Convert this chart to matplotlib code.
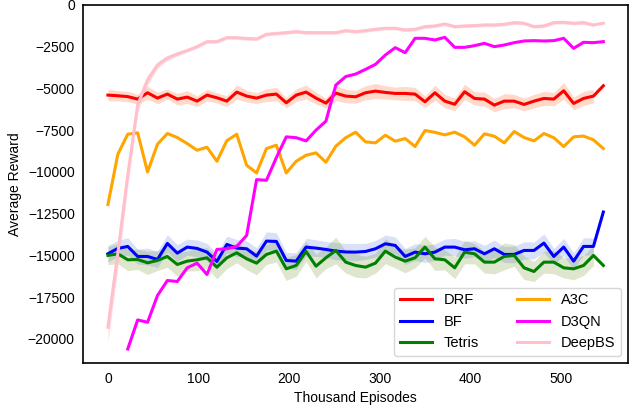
import numpy as np
import matplotlib

matplotlib.use("Agg")
import matplotlib.pyplot as plt

plt.rcParams["font.family"] = ["Liberation Sans", "DejaVu Sans"]

# x axis: thousand episodes, 51 checkpoints
episodes = np.arange(51) * 10.94

drf = [-5400, -5440, -5490, -5640, -5260, -5580, -5340, -5640, -5520, -5760,
       -5400, -5560, -5760, -5220, -5460, -5580, -5400, -5340, -5860, -5400,
       -5220, -5580, -5880, -5280, -5460, -5500, -5260, -5160, -5240, -5300,
       -5300, -5340, -5800, -5260, -5760, -5950, -5200, -5600, -5640, -6000,
       -5760, -5760, -5960, -5760, -5600, -5640, -5140, -5900, -5600, -5460,
       -4840]
bf = [-14900, -14580, -14460, -15060, -15060, -15240, -14280, -14860, -14500, -14580,
      -14800, -15360, -14340, -14560, -14600, -15040, -14140, -14160, -15300, -15340,
      -14500, -14560, -14640, -14740, -14790, -14800, -14760, -14600, -14300, -14400,
      -15060, -14800, -14900, -14800, -14500, -14500, -14660, -14600, -14900, -14600,
      -14940, -14940, -14700, -14700, -14260, -15060, -14500, -15340, -14460, -14460,
      -12400]
tetris = [-15000, -14900, -15260, -15240, -15440, -15300, -15060, -15540, -15340, -15260,
          -15140, -15700, -15140, -14840, -15200, -15460, -14940, -14740, -15800, -15600,
          -14760, -15640, -15140, -14700, -15400, -15600, -15700, -15460, -14740, -15100,
          -15340, -15140, -14500, -15200, -15260, -15740, -14800, -14900, -15400, -15400,
          -15060, -15000, -15740, -15960, -15400, -15400, -15740, -15800, -15600, -15000,
          -15600]
a3c = [-11950, -8940, -7740, -7660, -10000, -8340, -7700, -7940, -8300, -8700,
       -8520, -9360, -8130, -7740, -9600, -10060, -8600, -8400, -10060, -9360,
       -9000, -8860, -9420, -8460, -7950, -7620, -8200, -8260, -7800, -8160,
       -8000, -8480, -7520, -7630, -7780, -7620, -7900, -8400, -7720, -7860,
       -8260, -7580, -7940, -8140, -7700, -7950, -8480, -7900, -7850, -8080,
       -8600]
d3qn = [None, None, -20600, -18860, -19000, -17400, -16500, -16560, -15740, -15460,
        -16140, -14640, -14600, -14460, -13800, -10460, -10500, -9140, -7900, -7950,
        -8140, -7500, -6960, -4800, -4290, -4140, -3860, -3560, -3000, -2560,
        -2860, -2000, -2000, -2100, -1940, -2540, -2540, -2440, -2300, -2500,
        -2400, -2260, -2160, -2140, -2160, -2140, -2000, -2600, -2240, -2260,
        -2200]
deepbs = [-19300, -14880, -10200, -6000, -4500, -3600, -3180, -2940, -2730, -2500,
          -2200, -2200, -1960, -1960, -2010, -2040, -1760, -1710, -1660, -1600,
          -1660, -1660, -1660, -1660, -1540, -1600, -1540, -1460, -1400, -1400,
          -1500, -1460, -1300, -1260, -1140, -1300, -1260, -1240, -1200, -1200,
          -1160, -1060, -1100, -1300, -1260, -1060, -1040, -1100, -1060, -1200,
          -1100]

# half-width of the shaded spread (first 50 checkpoints)
drf_spread = [350, 300, 320, 300, 380, 350, 300, 340, 380, 320,
              350, 300, 330, 420, 350, 320, 380, 400, 300, 380,
              420, 350, 300, 450, 400, 380, 420, 450, 400, 380,
              420, 400, 350, 450, 400, 380, 450, 400, 420, 400,
              450, 400, 380, 400, 420, 400, 500, 380, 420, 400]
bf_spread = [500, 480, 520, 450, 500, 480, 520, 500, 480, 500,
             520, 480, 500, 520, 480, 500, 550, 520, 480, 500,
             520, 500, 480, 520, 500, 520, 480, 500, 520, 500,
             480, 500, 520, 500, 480, 520, 500, 480, 500, 520,
             480, 500, 520, 500, 550, 480, 520, 500, 520, 500]
tetris_spread = [550, 600, 650, 600, 700, 600, 650, 700, 600, 650,
                 600, 700, 650, 600, 650, 700, 600, 650, 700, 650,
                 600, 700, 650, 800, 650, 700, 650, 600, 750, 650,
                 700, 600, 650, 700, 600, 650, 700, 600, 650, 700,
                 800, 650, 700, 600, 650, 700, 600, 650, 600, 600]
deepbs_spread = [900, 900, 700, 500, 300, 200, 150, 120, 100, 100,
                 100, 100, 100, 100, 100, 100, 100, 100, 100, 100,
                 100, 100, 100, 100, 100, 100, 100, 100, 100, 100,
                 100, 100, 100, 100, 100, 100, 100, 100, 100, 100,
                 100, 100, 100, 100, 100, 100, 100, 100, 100, 100]

fig = plt.figure(figsize=(6.3, 4.09), dpi=100)
ax = fig.add_axes([0.132, 0.112, 0.865, 0.876])


def band(values, spread, color, alpha):
    n = len(spread)
    mid = np.array(values[:n], dtype=float)
    sp = np.array(spread, dtype=float)
    ax.fill_between(episodes[:n], mid - sp, mid + sp, color=color, alpha=alpha,
                    linewidth=0)


band(drf, drf_spread, "lightsalmon", 0.4)
band(bf, bf_spread, "royalblue", 0.2)
band(tetris, tetris_spread, "olivedrab", 0.22)
band(deepbs, deepbs_spread, "pink", 0.5)

ax.plot(episodes, drf, color="red", lw=2.2, label="DRF")
ax.plot(episodes, bf, color="blue", lw=2.2, label="BF")
ax.plot(episodes, tetris, color="green", lw=2.2, label="Tetris")
ax.plot(episodes, a3c, color="orange", lw=2.2, label="A3C")
ax.plot(episodes, np.array(d3qn, dtype=float), color="magenta", lw=2.2, label="D3QN")
ax.plot(episodes, deepbs, color="pink", lw=2.2, label="DeepBS")

ax.set_ylim(-21450, 0)
ax.set_xticks([0, 100, 200, 300, 400, 500])
ax.set_yticks(np.arange(-20000, 1, 2500))
ax.tick_params(length=0, pad=6, labelsize=10)
for s in ax.spines.values():
    s.set_linewidth(1.2)
ax.set_xlabel("Thousand Episodes", fontsize=10)
ax.set_ylabel("Average Reward", fontsize=10)
ax.legend(loc="lower right", ncol=2, fontsize=10.5, columnspacing=2.6,
          handlelength=2.2)

fig.savefig("out.png", dpi=100)
